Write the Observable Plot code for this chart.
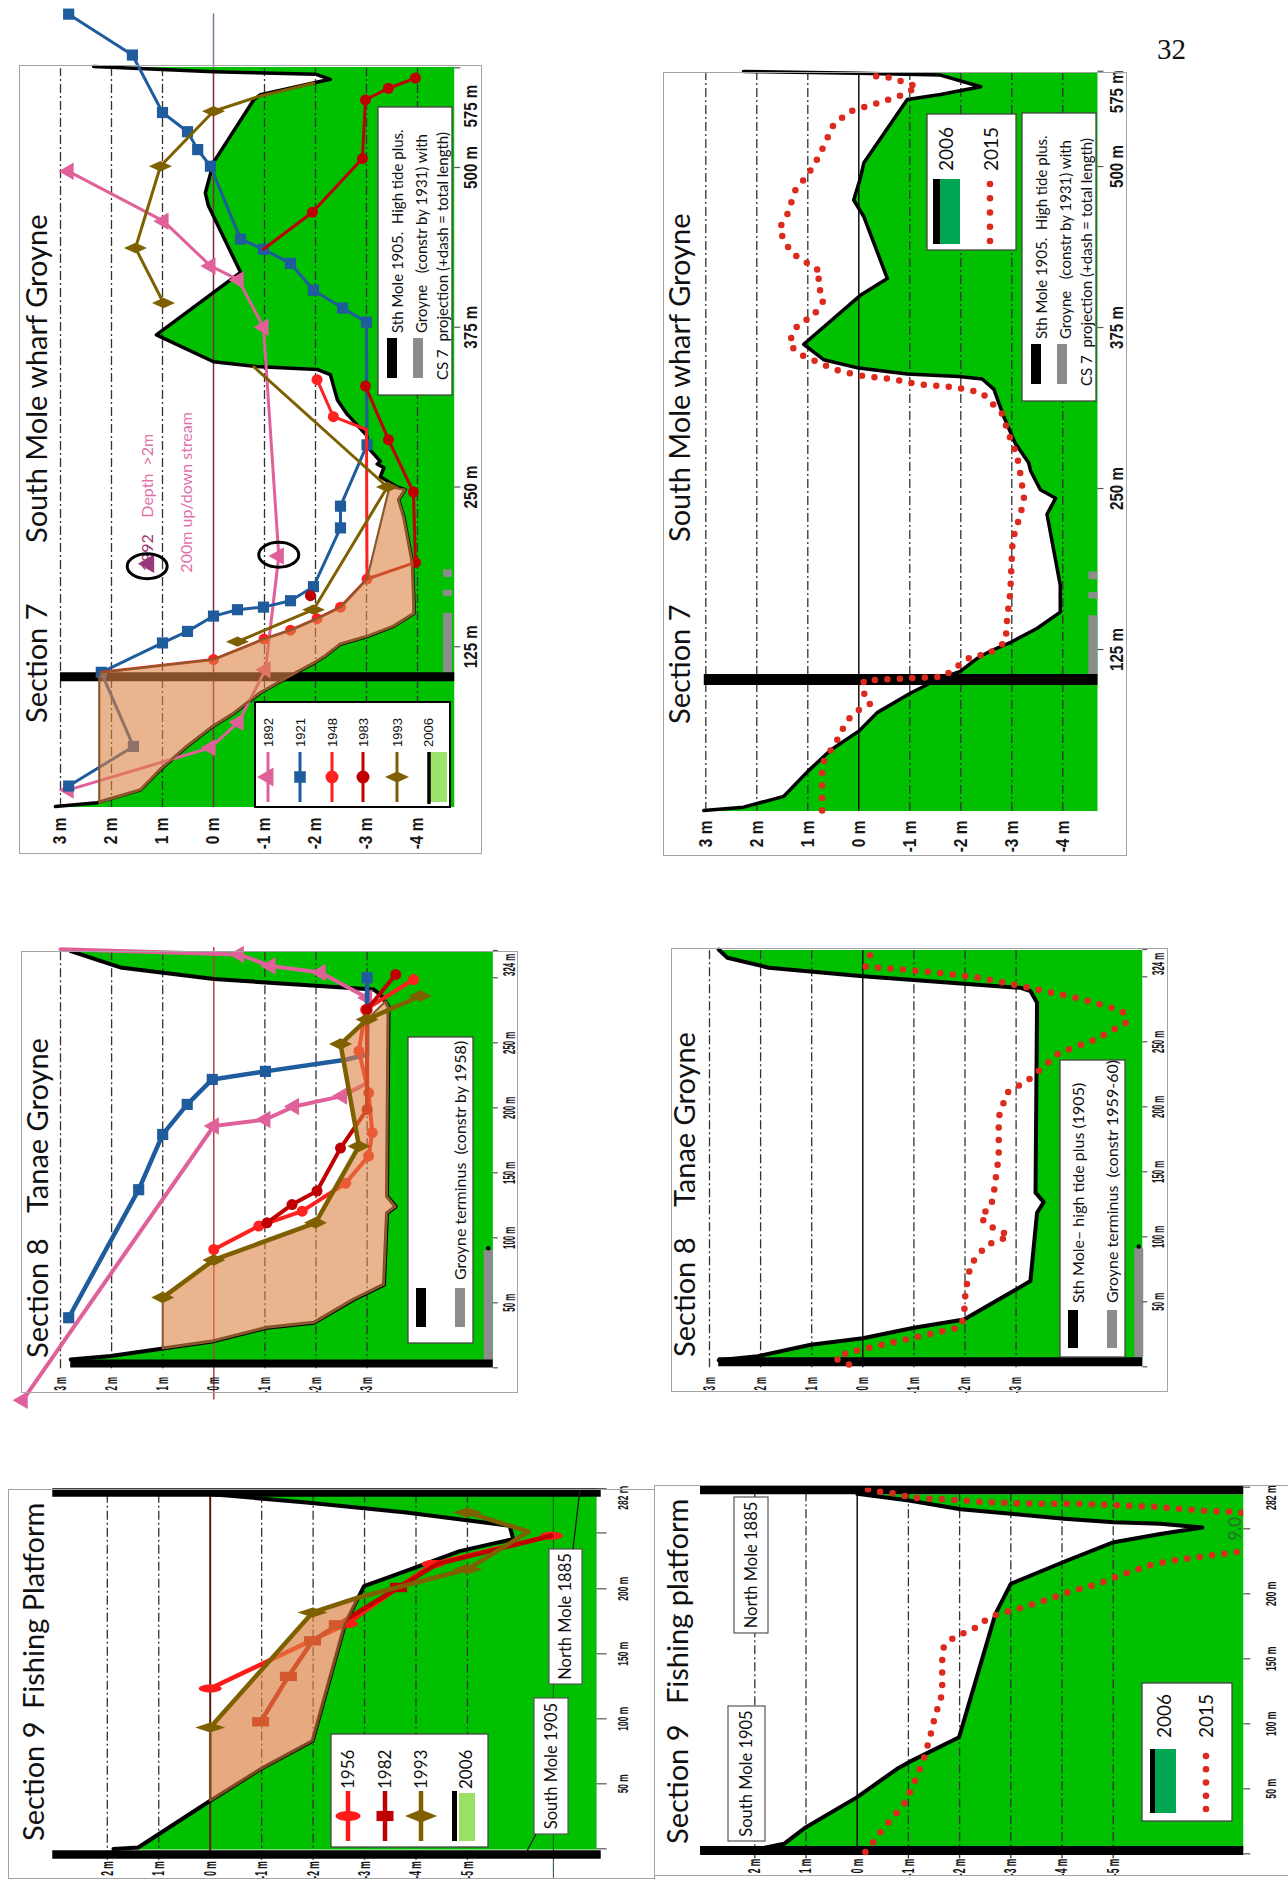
<!DOCTYPE html>
<html><head><meta charset="utf-8">
<script src="https://cdn.jsdelivr.net/npm/d3@7"></script>
<script src="https://cdn.jsdelivr.net/npm/@observablehq/plot@0.6"></script>
<style>
html,body{margin:0;padding:0;background:#fff}
body{position:relative;width:1288px;height:1881px;overflow:hidden}
.frame{position:absolute;box-sizing:border-box;border:1.5px solid #a4a4a4;pointer-events:none}
.rot{position:absolute;transform-origin:0 0}
.rot svg{position:absolute;left:0;top:0;overflow:visible}
.pagenum{position:absolute;left:1157px;top:33px;font:29px "Liberation Serif","Times New Roman",serif;color:#111}
</style></head><body>
<div class="pagenum">32</div>
<script>
// ======================= DATA  ([distance m, level m]) =======================
// ---- Section 7 : South Mole wharf Groyne ----
const s7a_bed2006 = [[0,3.1],[3,2.28],[13,1.43],[29,1.04],[47,0.52],[63,0],[73,-0.4],[89,-0.92],[101,-1.45],[112,-1.96],[118,-2.2],[127,-2.49],[133,-3.01],[141,-3.53],[151,-3.93],[159,-3.93],[191,-3.9],[227,-3.73],[240,-3.63],[248,-3.76],[250,-3.6],[258,-3.27],[265,-3.34],[268,-3.21],[270,-3.27],[280,-3.05],[290,-3.01],[307,-2.62],[318,-2.43],[338,-2.29],[342,-2.03],[344,-0.92],[348,0],[369,1.12],[418,-0.53],[470,0.1],[480,0.16],[504,0],[553,-0.79],[557,-0.92],[569,-2.29],[573,-2.0],[575,0],[579,2.35]];
const s7_1892 = [[13,2.84],[46,0.06],[66,-0.49],[107,-1.02],[196,-1.28],[375,-0.98],[412,-0.49],[423,0.06],[458,0.98],[497,2.84]];
const s7_1921 = [[16,2.84],[47,1.57],[105,2.2],[128,1.0],[137,0.51],[149,0],[154,-0.47],[156,-0.98],[161,-1.51],[172,-1.96],[218,-2.49],[235,-2.49],[283,-3.01],[379,-3.0],[390,-2.53],[404,-1.96],[425,-1.51],[436,-0.98],[444,-0.53],[501,0.06],[514,0.31],[528,0.51],[543,1.0],[588,1.59],[620,2.84]];
const s7_1948 = [[105,2.2,0],[115,0],[131,-0.99],[138,-1.51],[147,-2.03],[156,-2.49],[178,-3.01],[295,-3.0,0],[305,-2.35],[334,-2.03]];
const s7_1983 = [[165,-1.9],[NaN,NaN],[178,-3.01,0],[191,-3.96],[246,-3.92],[287,-3.43],[329,-2.98],[NaN,NaN],[436,-0.98,0],[465,-1.94],[507,-2.92],[553,-2.98],[562,-3.43],[570,-3.96]];
const s7_1993 = [[129,-0.47],[154,-1.96],[250,-3.41],[344,-0.79,0],[NaN,NaN],[394,0.98],[437,1.53],[501,1.04],[544,0],[556,-0.92,0],[566,-1.97,0]];
const s7_accretion = [[3,2.24],[101,2.24],[105,2.2],[115,0],[131,-0.99],[138,-1.51],[147,-2.03],[156,-2.49],[178,-3.01],[250,-3.45],[248,-3.76],[240,-3.63],[227,-3.73],[191,-3.9],[159,-3.93],[151,-3.93],[141,-3.53],[133,-3.01],[127,-2.49],[118,-2.2],[112,-1.96],[101,-1.45],[89,-0.92],[73,-0.4],[63,0],[47,0.52],[29,1.04],[13,1.43],[3,2.24]];
const s7_circled = [[188,1.3],[197,-1.28]];
const s7_marker1892 = [[190,1.27]];
const s7_notes = [{s:184,d:1.28,t:"1892",c:"#9a3a7a"},{s:226,d:1.28,t:"Depth  >2m",c:"#e070a8"},{s:183,d:0.53,t:"200m up/down stream",c:"#e070a8"}];
const s7b_bed2006 = [[0,3.04],[2.6,2.26],[11,1.47],[30,1.01],[47,0.55],[61.6,0],[76,-0.36],[91,-1.01],[101.7,-1.54],[108,-1.99],[116,-2.25],[120,-2.39],[125,-2.65],[131,-3.0],[141.5,-3.5],[154,-3.95],[175,-3.95],[230,-3.69],[242.5,-3.86],[249,-3.56],[263.6,-3.37],[270,-3.33],[285,-3.07],[293,-2.98],[306,-2.84],[327,-2.65],[335,-2.42],[337,-1.96],[339,-0.95],[343.5,0],[350,0.69],[362,1.08],[400,-0.03],[413,-0.56],[461,-0.1],[474,0.1],[491,-0.03],[503,-0.1],[552,-0.95],[556,-1.6],[562,-2.39],[571,-1.6],[572.5,0],[573.8,2.26]];
const s7_2015 = [[0,0.72],[36,0.72],[55,0.42],[70,0.23],[78,0],[83,-0.23],[93,-0.07],[101,-0.1],[104,-1.67],[110,-1.86],[120,-2.22],[121,-2.52],[131,-2.88],[150,-2.91],[169,-2.97],[205,-3.01],[213,-3.04],[230,-3.17],[242,-3.24],[261,-3.17],[276,-3.1],[289,-2.97],[308,-2.81],[324,-2.42],[327,-2.13],[329,-1.8],[331,-1.15],[335,-0.65],[337,-0.13],[341,0.36],[346,0.69],[354,1.14],[362,1.37],[373,1.27],[379,1.14],[383,0.91],[396,0.69],[411,0.82],[417,0.72],[423,0.91],[428,1.14],[434,1.34],[444,1.47],[451,1.57],[463,1.4],[482,1.24],[493,1.01],[508,0.78],[533,0.49],[543,0.16],[550,-0.43],[556,-0.88],[562,-1.15],[569,-0.62],[571,-0.1]];
const s7_mole = [101.5];
const s7_groyne = [[105,152],[165,170],[180,186]];

// ---- Section 8 : Tanae Groyne ----
const s8a_bed2006 = [[6.4,2.8],[9,2.02],[20.5,0],[30.8,-1.04],[34.6,-1.96],[52.6,-2.74],[64,-3.33],[119,-3.39],[124,-3.56],[132,-3.39],[278,-3.42],[287,-3.26],[291,-3.13],[299,0],[308,1.83],[313,2.22],[320.5,2.8]];
const s8_1892 = [[-25,3.74],[186,0],[191,-1.01],[201,-1.57],[209,-2.51],[219,-3.0,0],[284.6,-3.0],[304,-2.09],[309,-1.11],[318,-0.49],[322,3.0,0]];
const s8_1921 = [[38.5,2.84],[137,1.47],[179.5,1.0],[202.6,0.52],[221.8,0.03],[228,-1.01],[237,-2.58,0],[241,-3.0,0],[300,-3.0]];
const s8_1948 = [[91,0],[109,-0.88],[120.5,-1.73],[142,-2.58],[163,-3.03],[181,-3.1],[211.5,-3.03],[243.6,-2.84],[275.6,-2.97],[298.7,-3.91]];
const s8_1983 = [[111.5,-1.04],[125.6,-1.53],[136,-2.02],[169,-2.48],[198.7,-3.0],[275.6,-3.0],[302.6,-3.56]];
const s8_1993 = [[54,1.0],[83,0],[111.5,-1.99],[170.5,-2.84],[249,-2.48],[268,-3.0],[286,-4.04]];
const s8_accretion = [[14.8,1.0],[54,1.0],[83,0],[111.5,-1.99],[170.5,-2.84],[249,-2.48],[268,-3.0],[282,-3.36],[278,-3.42],[132,-3.39],[124,-3.56],[119,-3.39],[64,-3.33],[52.6,-2.74],[34.6,-1.96],[30.8,-1.04],[20.5,0],[14.8,1.0]];
const s8b_bed2006 = [[5,2.82],[8.2,2.06],[17,1.02],[22,0],[30,-1.0],[36.4,-1.98],[54,-2.76],[66,-3.28],[118.5,-3.41],[126.7,-3.54],[134,-3.38],[280,-3.41],[289,-3.28],[291.5,-3.09],[300.5,0],[307,1.84],[314.6,2.65],[321,2.82]];
const s8_2015 = [[1.8,0.27],[6.2,0.53],[10.8,0.31],[30.5,-1.91],[39,-1.98],[58,-2.01],[78.7,-2.11],[94,-2.43],[96.7,-2.66],[101,-2.86],[105.6,-2.63],[109.5,-2.4],[117,-2.3],[122,-2.5],[132.6,-2.56],[162,-2.66],[192,-2.66],[210.8,-2.82],[221,-3.25],[241.5,-3.84],[251.8,-4.55],[265,-5.17],[273.6,-5.08],[282.6,-4.32],[290.8,-3.35],[299,-2.34],[303.6,-1.36],[308,-0.05],[316,-0.12],[321,-0.31]];
const s8a_mole = [3.3], s8b_mole = [3.8];
const s8a_groyne = [[6.4,91]], s8b_groyne = [[8,91.5]];

// ---- Section 9 : Fishing Platform ----
const s9a_bed2006 = [[-0.2,1.88],[1,1.4],[37,0],[61.3,-0.98],[83,-1.99],[172.8,-2.62],[202,-2.99],[213.8,-3.81],[229,-4.85],[234.4,-5.45],[238.2,-5.89],[248.5,-5.82],[258.7,-3.81],[266.4,-1.87],[271.5,-0.39],[272.8,0]];
const s9_1956 = [[123.3,0],[173,-2.65],[201,-3.66,0],[219,-4.33],[240.8,-6.63]];
const s9_1982 = [[97.7,-0.98],[132.6,-1.52],[160,-1.99],[172.3,-2.47],[201,-3.66],[219,-4.41,0],[240.8,-6.63,0]];
const s9_1993 = [[93.3,0],[181.8,-1.99],[193.3,-2.88,0],[215,-5.0],[244,-6.19,0],[258.7,-5.0]];
const s9_accretion = [[37,0],[93.3,0],[181.8,-1.99],[193.3,-2.88],[172.8,-2.62],[83,-1.99],[61.3,-0.98],[37,0]];
const s9b_bed2006 = [[3,2.0],[7.7,1.43],[20.5,1.0],[43.6,0],[65.4,-0.78],[70.5,-1.01],[89.7,-1.99],[184.6,-2.7],[207.7,-3.0],[225.6,-4.1],[239.7,-5.01],[246,-5.92],[251,-6.74],[253.8,-5.92],[255,-5.01],[257.7,-4.04],[261.5,-3.0],[265,-2.02],[271.8,-1.01],[277,0]];
const s9_2015 = [[1.3,-0.16],[7.7,-0.29],[16.7,-0.46],[24.4,-0.62],[32,-0.78],[39.7,-0.94],[54.4,-1.11],[62.8,-1.2],[73,-1.3],[91,-1.43],[107.7,-1.53],[118,-1.63],[128,-1.66],[148.7,-1.66],[159,-1.69],[166.7,-1.89],[170.5,-2.12],[174.4,-2.34],[180.8,-2.54],[184.6,-2.77],[189.7,-3.26],[196,-3.74],[202.6,-4.23],[207.7,-4.72],[215.4,-5.21],[221.8,-5.7],[225.6,-6.15],[229.5,-6.9],[232,-7.39],[248,-9.0],[262.8,-7.45],[264,-6.7],[266.7,-5.92],[268,-5.14],[269.2,-4.36],[269.2,-3.58],[269.7,-3.06],[270.5,-2.54],[271.8,-2.02],[273,-1.5],[274,-1.04],[277,-0.78],[278,-0.52],[279.5,-0.26],[283,-0.07]];
const s9_note2015 = [{s:241,d:-7.39,t:"9.0"}];
const s9a_moles = [-4.4, 274], s9b_moles = [2.5, 280];

// ---- axes ----
const ticks7 = [3,2,1,0,-1,-2,-3,-4], grid7 = [3,2,1,-1,-2,-3,-4];
const ticks8 = [3,2,1,0,-1,-2,-3], grid8 = [3,2,1,-1,-2,-3];
const ticks9 = [2,1,0,-1,-2,-3,-4,-5], grid9 = [2,1,-1,-2,-3,-4,-5];
const xMarks7a = [125,250,375,500,578], xLabPos7a = [125,250,375,500,548];
const xMarks7b = [125,250,375,500,574], xLabPos7b = [125,250,375,500,558];
const xLab7 = ["125 m","250 m","375 m","500 m","575 m"];
const xMarks8 = [0,50,100,150,200,250,300,321], xLabPos8 = [50,100,150,200,250,310];
const xLab8 = ["50 m","100 m","150 m","200 m","250 m","324 m"];
const xMarks9a = [0,50,100,150,200,243,277], xLabPos9a = [50,100,150,200,270];
const xMarks9b = [0,50,100,150,200,250,282], xLabPos9b = [50,100,150,200,274];
const xLab9 = ["50 m","100 m","150 m","200 m","282 m"];

// ======================= STYLE =======================
const GREEN = "#00c000", RED15 = "#dd2a1f";
const C1892 = "#e0609a", C1921 = "#1f5c9e", C1948 = "#ff2020", C1983 = "#c00000", C1993 = "#7f6000";
const C1956 = "#ff1a1a", C1982 = "#c00000";
const LIB = "'Liberation Sans', Arial, sans-serif", LATO = "Lato, 'Open Sans', sans-serif";
const sx = p => p[0], dy = p => p[1];
const mk = data => data.filter(p => p.length < 3 || p[2]);

function ell(kx, ky){ return {draw(c, size){ const r=Math.sqrt(size/Math.PI), a=r*kx, b=r*ky, k=0.5523;
  c.moveTo(a,0); c.bezierCurveTo(a,b*k,a*k,b,0,b); c.bezierCurveTo(-a*k,b,-a,b*k,-a,0);
  c.bezierCurveTo(-a,-b*k,-a*k,-b,0,-b); c.bezierCurveTo(a*k,-b,a,-b*k,a,0); c.closePath(); }}; }
function dia(kx, ky){ return {draw(c, size){ const r=Math.sqrt(size/Math.PI);
  c.moveTo(0,-r*ky); c.lineTo(r*kx,0); c.lineTo(0,r*ky); c.lineTo(-r*kx,0); c.closePath(); }}; }
function box(kx, ky){ return {draw(c, size){ const r=Math.sqrt(size/Math.PI); c.rect(-r*kx,-r*ky,2*r*kx,2*r*ky); }}; }

function series(data, color, sym, r, w){
  return [Plot.line(data, {x: sx, y: dy, stroke: color, strokeWidth: w, strokeLinejoin: "round"}),
          Plot.dot(mk(data), {x: sx, y: dy, symbol: sym, r, fill: color, stroke: "none"})];
}
function dotted(data, opts = {}){
  return Plot.line(data, {x: sx, y: dy, stroke: RED15, strokeWidth: 6.5, strokeDasharray: "0,12.5", strokeLinecap: "round", ...opts});
}
function axes(yt, xm, xp, xl, o){
  const lab = new Map(xp.map((p, i) => [p, xl[i]]));
  return [
    Plot.axisY(yt, {anchor: "left", label: null, tickSize: 0, tickPadding: o.yPad, tickFormat: d => d + " m", fontSize: o.yFs, fontWeight: "bold", fontFamily: LIB, fill: "#161616"}),
    Plot.axisX(xm, {anchor: "bottom", label: null, tickSize: o.tk, tickFormat: () => "", stroke: "#555", strokeWidth: 1.2}),
    Plot.axisX(xp, {anchor: "bottom", label: null, tickSize: 0, tickPadding: o.tk + o.xPad, tickFormat: d => lab.get(d), fontSize: o.xFs, fontWeight: "bold", fontFamily: LIB, fill: "#161616"})
  ];
}
// horizontally condense the tick labels (narrow bold face of the original)
function condense(svg, kx, ky){
  [['g[aria-label="y-axis tick label"] text', ky], ['g[aria-label="x-axis tick label"] text', kx]].forEach(([sel, k]) => {
    svg.querySelectorAll(sel).forEach(t => {
      const tr = t.getAttribute("transform") || "";
      t.setAttribute("transform", tr + ` scale(${k},1)`);
    });
  });
}
// overlay helpers (unrotated coordinates)
function T(g, s, u, v, o = {}){
  return g.append("text").attr("x", u).attr("y", v).text(s).attr("font-family", o.ff || LATO)
    .attr("font-size", o.fs || 16).attr("fill", o.fill || "#111").attr("font-weight", o.fw || "normal")
    .attr("text-anchor", o.ta || "start").style("white-space", "pre");
}
function R(g, u, v, w, h, o = {}){
  return g.append("rect").attr("x", u).attr("y", v).attr("width", w).attr("height", h)
    .attr("fill", o.fill || "#fff").attr("stroke", o.stroke || "none").attr("stroke-width", o.sw || 1);
}
function Ln(g, u1, v1, u2, v2, o = {}){
  return g.append("line").attr("x1", u1).attr("y1", v1).attr("x2", u2).attr("y2", v2)
    .attr("stroke", o.stroke || "#000").attr("stroke-width", o.sw || 1);
}
function Sym(g, type, u, v, r, fill){
  g.append("path").attr("transform", `translate(${u},${v})`).attr("d", d3.symbol(type, Math.PI * r * r)()).attr("fill", fill);
}
function Dots(g, u1, u2, v, n){
  for (let i = 0; i < n; i++) g.append("circle").attr("cx", u1 + (u2 - u1) * i / (n - 1)).attr("cy", v).attr("r", 3.3).attr("fill", RED15);
}
function notesLegend(ov, u, v){
  const g = ov.append("g").attr("transform", `translate(${u},${v})`);
  R(g, 0, 0, 288, 74, {stroke: "#444", sw: 1.3});
  R(g, 17, 9, 40, 10, {fill: "#000"}); R(g, 17, 35, 40, 10, {fill: "#8c8c8c"});
  T(g, "Sth Mole 1905.  High tide plus.", 62, 25, {fs: 15});
  T(g, "Groyne   (constr by 1931) with", 62, 49, {fs: 15});
  T(g, "CS 7  projection (+dash = total length)", 15, 70, {fs: 15});
}

// ======================= CHART BUILDER =======================
function addChart(g, marks, decorate, cond){
  const mL = (g.T + g.H) - (g.as - g.bs * g.s[0]);
  const mR = Math.max(0, (g.as - g.bs * g.s[1]) - g.T);
  const mT = (g.ad - g.bd * g.d[1]) - g.L;
  const mB = (g.L + g.W) - (g.ad - g.bd * g.d[0]);
  const svg = Plot.plot({
    width: g.H, height: g.W,
    marginLeft: mL, marginRight: mR, marginTop: mT, marginBottom: mB,
    x: {domain: g.s, axis: null}, y: {domain: g.d, axis: null},
    style: {background: "transparent", overflow: "visible", fontFamily: LIB},
    marks
  });
  if (cond) condense(svg, cond[0], cond[1]);
  const rot = document.createElement("div");
  rot.className = "rot";
  Object.assign(rot.style, {left: g.L + "px", top: g.T + "px", width: g.H + "px", height: g.W + "px",
    transform: `translate(0px, ${g.H}px) rotate(-90deg)`});
  rot.appendChild(svg);
  document.body.appendChild(rot);
  const ov = d3.select(rot).append("svg").attr("width", g.H).attr("height", g.W);
  decorate(ov);
  const fr = document.createElement("div");
  fr.className = "frame";
  Object.assign(fr.style, {left: g.L + "px", top: g.T + "px", width: g.W + "px", height: g.H + "px"});
  if (g.noRight) fr.style.borderRight = "none";
  document.body.appendChild(fr);
}

const grid = vals => Plot.ruleY(vals, {stroke: "#333", strokeWidth: 1.3, strokeDasharray: "9,3,2,3"});

// ---------- Section 7, historical ----------
{
  const g = {L: 19, T: 65, W: 463, H: 789, as: 807, bs: 1.278, ad: 213, bd: 51, s: [0, 578], d: [-4.73, 3.2]};
  addChart(g, [
    Plot.areaY(s7a_bed2006, {x: sx, y1: g.d[0], y2: dy, fill: GREEN}),
    grid(grid7),
    Plot.ruleY([0], {stroke: "#7a2a45", strokeWidth: 1.5}),
    Plot.ruleY([0], {x1: 578, x2: 621, stroke: "#6f8296", strokeWidth: 1.5}),
    Plot.ruleY(s7_groyne, {y: -4.59, x1: p => p[0], x2: p => p[1], stroke: "#8c8c8c", strokeWidth: 9}),
    Plot.line(s7a_bed2006, {x: sx, y: dy, stroke: "#000", strokeWidth: 3.5}),
    Plot.ruleX(s7_mole, {x: d => d, y1: 3.0, y2: g.d[0], stroke: "#000", strokeWidth: 9}),
    ...series(s7_1892, C1892, "triangle", 6.5, 3),
    ...series(s7_1921, C1921, "square", 6.3, 3),
    ...series(s7_1948, C1948, "circle", 5.5, 3),
    ...series(s7_1983, C1983, "circle", 5.5, 3),
    Plot.line(s7_accretion, {x: sx, y: dy, fill: "#dc8244", fillOpacity: 0.6, stroke: "#8b5a2b", strokeWidth: 2.2}),
    ...series(s7_1993, C1993, dia(0.45, 1), 11.5, 3),
    Plot.text(s7_notes, {x: "s", y: "d", text: "t", fill: "c", textAnchor: "start", fontSize: 16, fontFamily: LATO}),
    Plot.dot(s7_marker1892, {x: sx, y: dy, symbol: "triangle", r: 7, fill: "#9a3a7a"}),
    Plot.dot(s7_circled, {x: sx, y: dy, symbol: ell(0.62, 1), r: 20, fill: "none", stroke: "#000", strokeWidth: 3}),
    ...axes(ticks7, xMarks7a, xLabPos7a, xLab7, {yPad: 11, yFs: 18, tk: 6, xPad: 3, xFs: 18})
  ], ov => {
    T(ov, "Section 7", 131, 28, {fs: 29});
    T(ov, "South Mole wharf Groyne", 311, 28, {fs: 29});
    const g1 = ov.append("g").attr("transform", "translate(47,236)");
    R(g1, 0, 0, 105, 195, {stroke: "#000", sw: 2});
    const rows = [["1892", C1892, d3.symbolTriangle, 7], ["1921", C1921, d3.symbolSquare, 6.5], ["1948", C1948, d3.symbolCircle, 6.5], ["1983", C1983, d3.symbolCircle, 6.5], ["1993", C1993, dia(0.45, 1), 12]];
    const rv = [13, 45, 77, 108, 142];
    rows.forEach((r, i) => { Ln(g1, 5, rv[i], 55, rv[i], {stroke: r[1], sw: 3}); Sym(g1, r[2], 30, rv[i], r[3], r[1]); T(g1, r[0], 60, rv[i] + 5, {fs: 13, ff: LIB}); });
    R(g1, 5, 175, 50, 17, {fill: "#9be36a"}); Ln(g1, 3, 174, 55, 174, {stroke: "#000", sw: 3.5}); T(g1, "2006", 60, 178, {fs: 13, ff: LIB});
    notesLegend(ov, 459, 359);
  }, [0.84, 0.86]);
}

// ---------- Section 7, 2006 / 2015 ----------
{
  const g = {L: 663, T: 72, W: 464, H: 784, as: 811, bs: 1.288, ad: 858.3, bd: 51, s: [0, 573.8], d: [-4.69, 3.2]};
  addChart(g, [
    Plot.areaY(s7b_bed2006, {x: sx, y1: g.d[0], y2: dy, fill: GREEN}),
    grid(grid7),
    Plot.ruleY([0], {stroke: "#111", strokeWidth: 1.5}),
    Plot.ruleY(s7_groyne, {y: -4.59, x1: p => p[0], x2: p => p[1], stroke: "#8c8c8c", strokeWidth: 9}),
    Plot.line(s7b_bed2006, {x: sx, y: dy, stroke: "#000", strokeWidth: 3.5}),
    Plot.ruleX([101.7], {x: d => d, y1: 3.03, y2: g.d[0], stroke: "#000", strokeWidth: 11}),
    dotted(s7_2015),
    ...axes(ticks7, xMarks7b, xLabPos7b, xLab7, {yPad: 10, yFs: 18, tk: 6, xPad: 6, xFs: 18})
  ], ov => {
    T(ov, "Section 7", 132, 27, {fs: 29});
    T(ov, "South Mole wharf Groyne", 314, 27, {fs: 29});
    const g1 = ov.append("g").attr("transform", "translate(606,264)");
    R(g1, 0, 0, 136, 89, {stroke: "#444", sw: 1.3});
    R(g1, 6, 13, 65, 20, {fill: "#00a651"}); R(g1, 6, 6, 65, 7, {fill: "#000"});
    T(g1, "2006", 79, 26, {fs: 19});
    Dots(g1, 9, 66, 63, 5);
    T(g1, "2015", 79, 71, {fs: 19});
    notesLegend(ov, 455, 359);
  }, [0.84, 0.86]);
}

// ---------- Section 8, historical ----------
{
  const g = {L: 21, T: 951, W: 497, H: 442, as: 1368.3, bs: 1.3, ad: 213.3, bd: 51.1, s: [0, 321], d: [-5.47, 3.05]};
  addChart(g, [
    Plot.areaY(s8a_bed2006, {x: sx, y1: g.d[0], y2: dy, fill: GREEN}),
    grid(grid8),
    Plot.ruleY([0], {x1: -24, x2: 324, stroke: "#b84040", strokeWidth: 1.5}),
    Plot.ruleY(s8a_groyne, {y: -5.37, x1: p => p[0], x2: p => p[1], stroke: "#8c8c8c", strokeWidth: 9}),
    Plot.dot([[92, -5.37]], {x: sx, y: dy, r: 2.2, fill: "#000"}),
    Plot.line(s8a_bed2006, {x: sx, y: dy, stroke: "#000", strokeWidth: 4}),
    Plot.ruleX(s8a_mole, {x: d => d, y1: 2.8, y2: g.d[0], stroke: "#000", strokeWidth: 8}),
    ...series(s8_1892, C1892, "triangle", 6.5, 4),
    ...series(s8_1921, C1921, "square", 6.3, 4.5),
    ...series(s8_1948, C1948, "circle", 5.5, 4),
    ...series(s8_1983, C1983, "circle", 5.5, 4),
    Plot.line(s8_accretion, {x: sx, y: dy, fill: "#dc8244", fillOpacity: 0.6, stroke: "#8b5a2b", strokeWidth: 2}),
    ...series(s8_1993, C1993, dia(0.5, 1), 11.5, 4.5),
    ...axes(ticks8, xMarks8, xLabPos8, xLab8, {yPad: 9, yFs: 16, tk: 5, xPad: 5, xFs: 16})
  ], ov => {
    T(ov, "Section 8", 35, 27, {fs: 29});
    T(ov, "Tanae Groyne", 180, 27, {fs: 29});
    const g1 = ov.append("g").attr("transform", "translate(50,387)");
    R(g1, 0, 0, 306, 65, {stroke: "#444", sw: 1.3});
    R(g1, 16, 8, 39, 10, {fill: "#000"}); R(g1, 16, 47, 39, 10, {fill: "#8c8c8c"});
    T(g1, "Groyne terminus  (constr by 1958)", 63, 58, {fs: 16});
  }, [0.49, 0.5]);
}

// ---------- Section 8, 2006 / 2015 ----------
{
  const g = {L: 671, T: 948, W: 497, H: 444, as: 1367.3, bs: 1.3, ad: 862.3, bd: 51.1, s: [0, 321], d: [-5.48, 3.05]};
  addChart(g, [
    Plot.areaY(s8b_bed2006, {x: sx, y1: g.d[0], y2: dy, fill: GREEN}),
    grid(grid8),
    Plot.ruleY([0], {stroke: "#111", strokeWidth: 1.5}),
    Plot.ruleY(s8b_groyne, {y: -5.4, x1: p => p[0], x2: p => p[1], stroke: "#8c8c8c", strokeWidth: 9}),
    Plot.dot([[92.5, -5.4]], {x: sx, y: dy, r: 2.2, fill: "#000"}),
    Plot.line(s8b_bed2006, {x: sx, y: dy, stroke: "#000", strokeWidth: 4}),
    Plot.ruleX(s8b_mole, {x: d => d, y1: 2.82, y2: g.d[0], stroke: "#000", strokeWidth: 9}),
    dotted(s8_2015),
    ...axes(ticks8, xMarks8, xLabPos8, xLab8, {yPad: 10, yFs: 16, tk: 5, xPad: 5, xFs: 16})
  ], ov => {
    T(ov, "Section 8", 35, 24, {fs: 29});
    T(ov, "Tanae Groyne", 185, 24, {fs: 29});
    const g1 = ov.append("g").attr("transform", "translate(35,389)");
    R(g1, 0, 0, 297, 65, {stroke: "#444", sw: 1.3});
    R(g1, 9, 8, 38, 10, {fill: "#000"}); R(g1, 9, 47, 38, 10, {fill: "#8c8c8c"});
    T(g1, "Sth Mole– high tide plus (1905)", 54, 24, {fs: 16});
    T(g1, "Groyne terminus  (constr 1959-60)", 54, 58, {fs: 16});
  }, [0.49, 0.5]);
}

// ---------- Section 9, historical ----------
{
  const g = {L: 8, T: 1489, W: 647, H: 390, as: 1849.3, bs: 1.3, ad: 209.7, bd: 51.45, s: [-8, 277], d: [-7.52, 3.0]};
  addChart(g, [
    Plot.areaY(s9a_bed2006, {x: sx, y1: g.d[0], y2: dy, fill: GREEN}),
    grid(grid9),
    Plot.ruleY([-6.67], {x1: -22, x2: 277, stroke: "#1f4f1f", strokeWidth: 1}),
    Plot.ruleY([0], {x1: -4.4, x2: 274, stroke: "#5a1a0a", strokeWidth: 2}),
    Plot.line(s9a_bed2006, {x: sx, y: dy, stroke: "#000", strokeWidth: 4}),
    Plot.ruleX(s9a_moles, {x: d => d, y1: 3.06, y2: -7.6, stroke: "#000", strokeWidth: 8.5}),
    ...series(s9_1956, C1956, ell(0.35, 1), 11.5, 4.5),
    ...series(s9_1982, C1982, box(0.55, 1), 8.5, 4.5),
    Plot.line(s9_accretion, {x: sx, y: dy, fill: "#dc8244", fillOpacity: 0.68, stroke: "#7a4a22", strokeWidth: 2.5}),
    ...series(s9_1993, C1993, dia(0.33, 1), 15, 4.5),
    ...axes(ticks9, xMarks9a, xLabPos9a, xLab9, {yPad: 2, yFs: 17, tk: 10, xPad: 11, xFs: 14})
  ], ov => {
    T(ov, "Section 9", 38, 36, {fs: 29});
    T(ov, "Fishing Platform", 170, 36, {fs: 29});
    const g1 = ov.append("g").attr("transform", "translate(32,323)");
    R(g1, 0, 0, 113, 157, {stroke: "#444", sw: 1.3});
    const rows = [["1956", C1956, ell(0.4, 1), 12.5], ["1982", C1982, box(0.6, 1), 8.5], ["1993", C1993, dia(0.4, 1), 16]];
    const rv = [17, 54, 90];
    rows.forEach((r, i) => { Ln(g1, 6, rv[i], 56, rv[i], {stroke: r[1], sw: 4.5}); Sym(g1, r[2], 31, rv[i], r[3], r[1]); T(g1, r[0], 58, rv[i] + 6, {fs: 17}); });
    R(g1, 6, 128, 48, 16, {fill: "#99e064"}); R(g1, 6, 121, 50, 5, {fill: "#000"});
    T(g1, "2006", 58, 141, {fs: 17});
    R(ov, 195, 541, 135, 33, {stroke: "#555", sw: 1.2}); T(ov, "North Mole 1885", 262.5, 563, {fs: 16.5, ta: "middle"});
    R(ov, 45, 526, 136, 34, {stroke: "#555", sw: 1.2}); T(ov, "South Mole 1905", 113, 549, {fs: 16.5, ta: "middle"});
    Ln(ov, 330, 565, 390, 572, {stroke: "#1a1a1a", sw: 1.3});
    Ln(ov, 45, 528, 26, 518, {stroke: "#1a1a1a", sw: 1.3});
  }, [0.6, 0.5]);
}

// ---------- Section 9, 2006 / 2015 ----------
{
  const g = {L: 654, T: 1485, W: 640, H: 391, as: 1854.3, bs: 1.3, ad: 856.7, bd: 51.2, s: [-3, 282], d: [-7.55, 3.0], noRight: true};
  addChart(g, [
    Plot.areaY(s9b_bed2006, {x: sx, y1: g.d[0], y2: dy, fill: GREEN}),
    grid(grid9),
    Plot.ruleY([0], {x1: 2.5, x2: 280, stroke: "#111", strokeWidth: 1.5}),
    Plot.line(s9b_bed2006, {x: sx, y: dy, stroke: "#000", strokeWidth: 4}),
    Plot.ruleX(s9b_moles, {x: d => d, y1: 3.06, y2: g.d[0], stroke: "#000", strokeWidth: 9}),
    dotted(s9_2015, {clip: true}),
    Plot.text(s9_note2015, {x: "s", y: "d", text: "t", textAnchor: "start", fill: "#2e6b2e", fontSize: 17, fontFamily: LATO}),
    ...axes(ticks9, xMarks9b, xLabPos9b, xLab9, {yPad: 1, yFs: 17, tk: 7, xPad: 15, xFs: 15})
  ], ov => {
    T(ov, "Section 9", 32, 34, {fs: 29});
    T(ov, "Fishing platform", 172, 34, {fs: 29});
    const g1 = ov.append("g").attr("transform", "translate(55,488)");
    R(g1, 0, 0, 138, 90, {stroke: "#444", sw: 1.3});
    R(g1, 8, 13, 64, 21, {fill: "#00a651"}); R(g1, 8, 8, 64, 5, {fill: "#000"});
    T(g1, "2006", 83, 29, {fs: 19});
    Dots(g1, 12, 65, 64, 5);
    T(g1, "2015", 83, 71, {fs: 19});
    R(ov, 35, 74, 135, 37, {stroke: "#555", sw: 1.2}); T(ov, "South Mole 1905", 102.5, 98, {fs: 16.5, ta: "middle"});
    R(ov, 243, 80, 136, 34, {stroke: "#555", sw: 1.2}); T(ov, "North Mole 1885", 311, 103, {fs: 16.5, ta: "middle"});
  }, [0.58, 0.5]);
}
</script>
</body></html>
